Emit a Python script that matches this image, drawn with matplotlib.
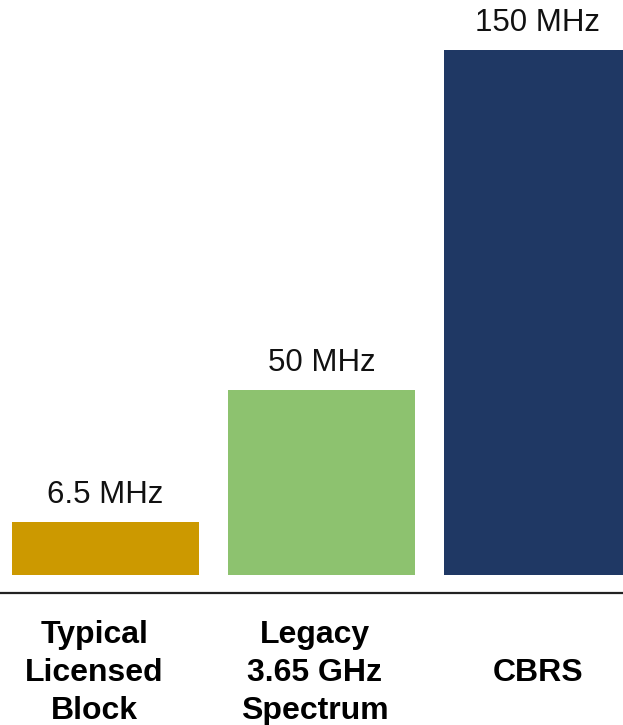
import matplotlib
matplotlib.use("Agg")
import matplotlib.pyplot as plt

categories = ["Typical\nLicensed\nBlock", "Legacy\n3.65 GHz\nSpectrum", "CBRS"]
value_labels = ["6.5 MHz", "50 MHz", "150 MHz"]
# drawn bar heights as they appear in the picture (schematic, not proportional)
bar_heights = [15.1, 52.9, 150]
colors = ["#CC9900", "#8DC26F", "#1F3864"]

W, H = 623, 725
fig = plt.figure(figsize=(W / 100, H / 100), dpi=100)
ax = fig.add_axes([0, 0, 1, 1])
ax.set_axis_off()

PX = 3.5          # pixels per unit
BASE = 575        # pixel row of zero
def ypix(p):
    return (BASE - p) / PX

ax.set_ylim(ypix(H), ypix(0))
ax.set_xlim(-105.5 / 216, (W - 105.5) / 216)

x = list(range(len(categories)))
ax.bar(x, bar_heights, width=187 / 216, color=colors, bottom=0, align="center")

for xi, h, lab in zip(x, bar_heights, value_labels):
    ax.text(xi, h + 19 / PX, lab, ha="center", va="baseline",
            fontsize=22.5, family="Liberation Sans", color="#111111")

# axis line
ax.plot([ax.get_xlim()[0], ax.get_xlim()[1]], [ypix(593), ypix(593)],
        color="#222222", lw=1.6, solid_capstyle="butt")

label_dx = [-11 / 216, -7 / 216, 1 / 216]
for xi, cat, dx in zip(x, categories, label_dx):
    lines = cat.split("\n")
    n = len(lines)
    first = 681 - (n - 1) / 2 * 38
    for k, ln in enumerate(lines):
        ax.text(xi + dx, ypix(first + k * 38), ln, ha="center", va="baseline",
                fontsize=23, fontweight="bold", family="Liberation Sans",
                color="#000000")

fig.savefig("out.png", dpi=100)
